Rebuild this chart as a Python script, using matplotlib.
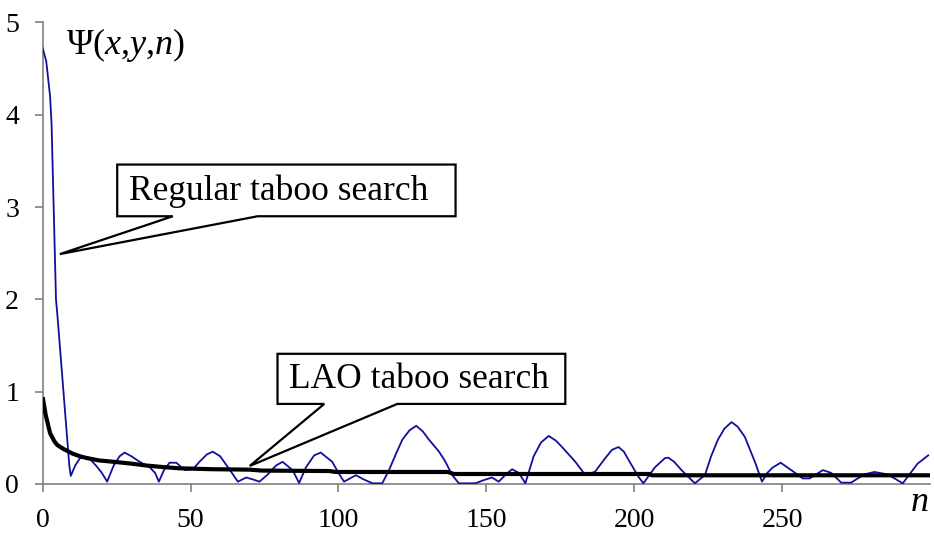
import matplotlib
matplotlib.use("Agg")
import matplotlib.pyplot as plt
from matplotlib.patches import Polygon

plt.rcParams['font.family'] = ['Liberation Serif', 'DejaVu Serif']
plt.rcParams['mathtext.fontset'] = 'custom'
plt.rcParams['mathtext.rm'] = 'Liberation Serif'
plt.rcParams['mathtext.it'] = 'Liberation Serif:italic'

# regular taboo search, Psi(x,y,n) against iteration n
reg_n = [0, 1.2, 2.5, 3.0, 4.5, 5.0, 9.0, 9.5, 11, 12.6, 15.4, 18, 20, 21.8, 24, 26, 27.7,
         30, 32.8, 36.2, 38, 39.3, 41, 42.9, 45.2, 48, 50.8, 53, 55.5, 57.5, 60, 63.1, 66,
         68.8, 71, 73.3, 76, 78.9, 81.1, 84.5, 86.7, 89, 91.8, 94, 97.9, 100, 101.9, 105.9,
         108.5, 111.5, 114.8, 117.1, 119.5, 121.6, 124, 126.3, 128.5, 130.6, 134, 136,
         138.5, 140.7, 146.3, 149, 151.9, 154.2, 156.5, 158.7, 161, 163.2, 166, 168.5,
         171.1, 173.5, 175.6, 180.1, 183.5, 185, 186.8, 190.2, 192.5, 194.7, 196.5, 198.1,
         201.4, 203.1, 207, 210.4, 211.5, 213.5, 216, 220.5, 223.9, 226, 228.3, 230.5,
         232.9, 235, 237.4, 240.8, 243.2, 245, 246.9, 249.5, 253.1, 257, 259.3, 263.8,
         266.6, 270, 273.3, 277.8, 281.2, 285.7, 290.8, 293, 295.8, 299.4]
reg_psi = [4.72, 4.58, 4.2, 3.9, 2.0, 1.82, 0.2, 0.087, 0.2, 0.28, 0.29, 0.2, 0.12, 0.025,
           0.2, 0.3, 0.34, 0.3, 0.24, 0.18, 0.12, 0.025, 0.15, 0.23, 0.23, 0.15, 0.16, 0.24,
           0.32, 0.35, 0.3, 0.16, 0.025, 0.07, 0.05, 0.025, 0.1, 0.2, 0.24, 0.15, 0.01, 0.18,
           0.31, 0.34, 0.24, 0.12, 0.025, 0.095, 0.05, 0.007, 0.007, 0.15, 0.33, 0.48, 0.58,
           0.63, 0.57, 0.48, 0.35, 0.25, 0.095, 0.007, 0.007, 0.04, 0.07, 0.025, 0.1, 0.16,
           0.12, 0.007, 0.3, 0.45, 0.52, 0.47, 0.4, 0.24, 0.095, 0.11, 0.134, 0.28, 0.37,
           0.4, 0.35, 0.26, 0.08, 0.007, 0.18, 0.28, 0.285, 0.24, 0.15, 0.007, 0.095, 0.3,
           0.48, 0.6, 0.67, 0.62, 0.51, 0.24, 0.025, 0.12, 0.18, 0.23, 0.15, 0.06, 0.06,
           0.15, 0.12, 0.014, 0.014, 0.104, 0.13, 0.104, 0.007, 0.1, 0.22, 0.31]

# LAO taboo search
lao_n = [0, 1, 2.5, 4, 5, 7, 10, 12.6, 15, 19, 24, 30, 35, 40, 46, 57, 70, 74, 97, 99,
         137, 139, 205, 206, 300]
lao_psi = [0.94, 0.75, 0.55, 0.46, 0.42, 0.38, 0.33, 0.30, 0.28, 0.255, 0.24, 0.22, 0.2,
           0.185, 0.17, 0.16, 0.155, 0.145, 0.14, 0.13, 0.13, 0.108, 0.108, 0.094, 0.094]

x_ticks = [0, 50, 100, 150, 200, 250]
y_ticks = [0, 1, 2, 3, 4, 5]

fig = plt.figure(figsize=(9.34, 5.33), dpi=100)
ax = fig.add_axes([0.0457, 0.092, 0.95, 0.866])

ax.plot(reg_n, reg_psi, color='#10109a', lw=1.3, zorder=3)
ax.plot(lao_n, lao_psi, color='black', lw=3.0, zorder=4, solid_capstyle='butt')

ax.set_xlim(0, 300)
ax.set_ylim(0, 5)
ax.set_xticks(x_ticks)
ax.set_yticks(y_ticks)
for s in ['top', 'right']:
    ax.spines[s].set_visible(False)
for s in ['left', 'bottom']:
    ax.spines[s].set_color('#808080')
    ax.spines[s].set_linewidth(1.2)
ax.tick_params(direction='out', length=6, width=1.2, color='#808080',
               labelsize=20, pad=11)

ax.text(7.8, 4.75, r'$\Psi(x{,}y{,}n)$', fontsize=26, va='center', ha='left')
ax.text(299.5, -0.02, r'$n$', fontsize=26, va='top', ha='right', clip_on=False)


def callout(box, base, tip, label, text_xy):
    (x0, x1), (y0, y1) = box
    pts = [(x0, y1), (x1, y1), (x1, y0), (base[1], y0), tip, (base[0], y0), (x0, y0)]
    poly = Polygon(pts, closed=True, facecolor='white', edgecolor='black',
                   lw=1.6, joinstyle='miter', zorder=6, clip_on=False)
    ax.add_patch(poly)
    ax.text(text_xy[0], text_xy[1], label, fontsize=25.5, ha='center',
            va='baseline', zorder=7)


callout(((25.2, 139.6), (2.90, 3.46)), (44, 72.7), (5.8, 2.49),
        'Regular taboo search', (79.7, 3.08))
callout(((79.4, 176.7), (0.867, 1.41)), (95.2, 119.9), (70, 0.195),
        'LAO taboo search', (127.2, 1.037))

fig.savefig('out.png', dpi=100)
